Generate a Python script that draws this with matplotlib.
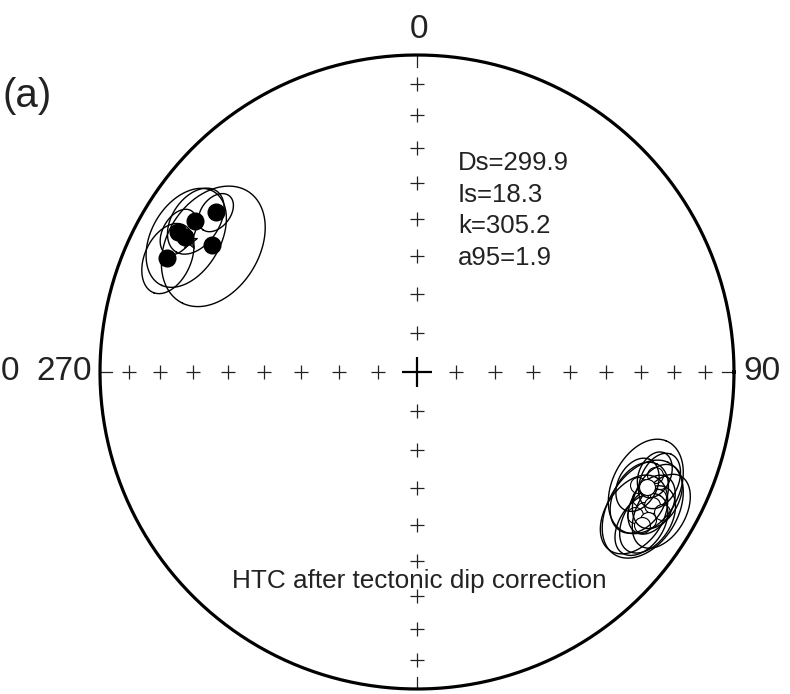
import numpy as np
import matplotlib.pyplot as plt

plt.rcParams['font.family'] = ['Liberation Sans', 'DejaVu Sans']

# sitios normales (hemisferio inferior, simbolo lleno)
dec_norm = [308.4, 304.3, 300.4, 300.2, 301.7, 294.5]
inc_norm = [20.1, 16.4, 13.7, 16.4, 24.8, 14.5]
a95_norm = [4.5, 7.5, 5.0, 11.0, 14.0, 7.5]

# sitios inversos (hemisferio superior, simbolo abierto)
dec_rev = [116.6, 114.2, 117.4, 119.5, 121.3, 119.5, 123.3, 122.6, 113.4, 117.1, 119.7, 124.2]
inc_rev = [-20.0, -17.1, -15.5, -20.3, -17.3, -15.9, -18.9, -14.5, -19.3, -22.8, -12.0, -15.3]
a95_rev = [10.5, 6.0, 7.0, 8.0, 11.0, 6.5, 9.0, 7.5, 5.0, 6.0, 8.0, 7.0]

# media
Ds, Is, k, a95 = 299.9, 18.3, 305.2, 1.9
stats_labels = ["Ds=%.1f" % Ds, "Is=%.1f" % Is, "k=%.1f" % k, "a95=%.1f" % a95]
titulo = "HTC after tectonic dip correction"
panel = "(a)"

grid_incs = [10, 20, 30, 40, 50, 60, 70, 80]


def proyectar(dec, inc):
    dec = np.radians(np.asarray(dec, dtype=float))
    inc = np.abs(np.asarray(inc, dtype=float))
    r = np.sqrt(2) * np.sin(np.radians(90 - inc) / 2)
    return r * np.sin(dec), r * np.cos(dec)


def circulo_pequeno(dec, inc, alfa, n=200):
    D, I, a = np.radians(dec), np.radians(inc), np.radians(alfa)
    v = np.array([np.cos(I) * np.cos(D), np.cos(I) * np.sin(D), np.sin(I)])
    e1 = np.cross(v, [0, 0, 1.0])
    e1 = e1 / np.linalg.norm(e1)
    e2 = np.cross(v, e1)
    t = np.linspace(0, 2 * np.pi, n)
    pts = np.cos(a) * v[:, None] + np.sin(a) * (np.outer(e1, np.cos(t)) + np.outer(e2, np.sin(t)))
    incs = np.degrees(np.arcsin(pts[2]))
    decs = np.degrees(np.arctan2(pts[1], pts[0]))
    return proyectar(decs, incs)


fig = plt.figure(figsize=(7.9, 6.94), dpi=100)
ax = fig.add_axes([0, 0, 1, 1])
ax.set_xlim(-417 / 317, 373 / 317)
ax.set_ylim(-322 / 317, 372 / 317)
ax.axis('off')

# circulo primitivo
t = np.linspace(0, 2 * np.pi, 400)
ax.plot(np.cos(t), np.sin(t), color='black', lw=2.3, zorder=2)

# cruces de la reticula
for az in [0, 90, 180, 270]:
    gx, gy = proyectar([az] * len(grid_incs), grid_incs)
    ax.plot(gx, gy, '+', color='#222222', ms=10, mew=0.9, zorder=1)
    ex, ey = np.sin(np.radians(az)), np.cos(np.radians(az))
    ax.plot([ex, ex * 0.962], [ey, ey * 0.962], color='#222222', lw=0.9, zorder=1)
ax.plot(0, 0, '+', color='black', ms=22, mew=1.6, zorder=1)

# elipses y sitios normales
for d, i, a in zip(dec_norm, inc_norm, a95_norm):
    cx, cy = circulo_pequeno(d, i, a)
    ax.plot(cx, cy, color='black', lw=1.0, zorder=3)
sx, sy = proyectar([Ds], [Is])
ax.plot(sx, sy, '*', color='#555555', mec='black', mew=0.8, ms=12, zorder=4)
nx, ny = proyectar(dec_norm, inc_norm)
ax.plot(nx, ny, 'o', color='black', ms=12, zorder=5)

# sitios inversos (debajo de las elipses)
rx, ry = proyectar(dec_rev, inc_rev)
ax.plot(rx, ry, 'o', mfc='white', mec='black', mew=0.8, ms=11.5, zorder=3)
for d, i, a in zip(dec_rev, inc_rev, a95_rev):
    cx, cy = circulo_pequeno(d, i, a)
    ax.plot(cx, cy, color='black', lw=1.0, zorder=4)
# el primer sitio queda visible encima
ax.plot(rx[0], ry[0], 'o', mfc='white', mec='black', mew=0.8, ms=11.5, zorder=5)

# textos
col = '#222222'
ax.text(0.006, 1.053, "0", fontsize=24, ha='center', va='baseline', color=col)
ax.text(-1.025, -0.025, "270", fontsize=24, ha='right', va='baseline', color=col)
ax.text(-1.2555, -0.025, "0", fontsize=24, ha='right', va='baseline', color=col)
ax.text(1.028, -0.025, "90", fontsize=24, ha='left', va='baseline', color=col)
ax.text(-1.306, 0.837, panel, fontsize=29, ha='left', va='baseline', color=col)
for j, lab in enumerate(stats_labels):
    ax.text(0.129, 0.637 - j * 0.1, lab, fontsize=18.5, ha='left', va='baseline', color=col)
ax.text(0.006, -0.681, titulo, fontsize=18.8, ha='center', va='baseline', color=col)

fig.savefig('out.png', dpi=100)
